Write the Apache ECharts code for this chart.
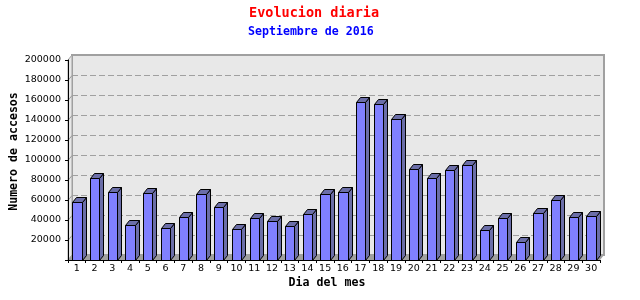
<!DOCTYPE html>
<html>
<head>
<meta charset="utf-8">
<script src="https://cdn.jsdelivr.net/npm/echarts@6/dist/echarts.min.js"></script>
<style>html,body{margin:0;padding:0;background:#fff}#c{width:640px;height:300px}</style>
</head>
<body>
<div id="c"></div>
<script>
const titleText = 'Evolucion diaria';
const subtitleText = 'Septiembre de 2016';
const xName = 'Dia del mes';
const yName = 'Numero de accesos';
const days = ['1','2','3','4','5','6','7','8','9','10','11','12','13','14','15','16','17','18','19','20','21','22','23','24','25','26','27','28','29','30'];
const accesses = [57700, 81700, 67700, 34700, 66700, 31700, 42700, 65700, 52700, 30700,
                  41700, 38700, 33700, 45700, 65700, 67700, 157700, 155700, 140700, 90700,
                  81700, 89700, 94700, 29700, 41700, 17700, 46700, 59700, 42700, 43700];
const yMin = 0, yMax = 200000, yStep = 20000;

const DX = 4, DY = 5;
const FRONT = '#8080ff', SIDE = '#6b6ea8', TOP = '#6b6ea8';
const MONO = '"DejaVu Sans Mono", monospace';
const SANS = '"DejaVu Sans", sans-serif';
const r = v => Math.round(v) + 0.5;

function renderBar(params, api) {
  const i = api.value(0), v = api.value(1);
  const t = api.coord([i, v]);
  const b = api.coord([i, 0]);
  const w = api.size([1, 0])[0] * 0.53;
  const x0 = r(t[0] - w / 2), x1 = r(t[0] + w / 2);
  const yT = r(t[1]), yB = r(b[1]);
  const st = (fill) => ({fill: fill, stroke: '#000', lineWidth: 1});
  return {type: 'group', children: [
    {type: 'polygon', shape: {points: [[x1, yT], [x1 + DX, yT - DY], [x1 + DX, yB - DY], [x1, yB]]}, style: st(SIDE)},
    {type: 'polygon', shape: {points: [[x0, yT], [x0 + DX, yT - DY], [x1 + DX, yT - DY], [x1, yT]]}, style: st(TOP)},
    {type: 'rect', shape: {x: x0, y: yT, width: x1 - x0, height: yB - yT}, style: st(FRONT)}
  ]};
}

function renderDecor(params, api) {
  const cs = params.coordSys;
  const x = cs.x, y = cs.y, w = cs.width, h = cs.height;
  const ch = [];
  ch.push({type: 'polygon', shape: {points: [[x, y], [x + DX, y - DY], [x + DX, y + h - DY], [x, y + h]]},
           style: {fill: '#e8e8e8', stroke: '#a0a0a0', lineWidth: 1}});
  ch.push({type: 'polygon', shape: {points: [[x, y + h], [x + DX, y + h - DY], [x + w + DX, y + h - DY], [x + w, y + h]]},
           style: {fill: '#a0a0a0'}});
  for (let v = yMin + yStep; v < yMax; v += yStep) {
    const p = api.coord([0, v]);
    const py = r(p[1]);
    ch.push({type: 'line', shape: {x1: x, y1: py, x2: x + DX, y2: py - DY}, style: {stroke: '#999', lineWidth: 1}});
  }
  return {type: 'group', children: ch};
}

const chart = echarts.init(document.getElementById('c'), null, {renderer: 'canvas'});
chart.setOption({
  animation: false,
  backgroundColor: '#fff',
  title: [
    {text: titleText, left: 249, top: 6, padding: 0,
     textStyle: {color: '#ff0000', fontFamily: MONO, fontWeight: 'bold', fontSize: 13.5}},
    {text: subtitleText, left: 248, top: 26, padding: 0,
     textStyle: {color: '#0000ff', fontFamily: MONO, fontWeight: 'bold', fontSize: 11.6}}
  ],
  grid: [
    {left: 68, right: 40, top: 60, bottom: 40, outerBoundsMode: 'none', containLabel: false},
    {left: 72, right: 36, top: 55, bottom: 45, outerBoundsMode: 'none', containLabel: false,
     show: true, backgroundColor: '#e8e8e8', borderColor: '#a0a0a0', borderWidth: 2}
  ],
  xAxis: [
    {type: 'category', data: days, gridIndex: 0, z: 10,
     name: xName, nameLocation: 'middle', nameGap: 17, nameMoveOverlap: false,
     nameTextStyle: {fontFamily: MONO, fontWeight: 'bold', fontSize: 11.6, color: '#000', padding: [0, 14, 0, 0]},
     axisLine: {lineStyle: {color: '#000', width: 1}},
     axisTick: {show: true, interval: 0, length: 3, lineStyle: {color: '#000'}},
     axisLabel: {interval: 0, margin: 4, color: '#000', fontFamily: SANS, fontSize: 9.5},
     splitLine: {show: false}},
    {type: 'category', data: days, gridIndex: 1, show: false}
  ],
  yAxis: [
    {type: 'value', gridIndex: 0, min: yMin, max: yMax, interval: yStep, z: 10,
     name: yName, nameLocation: 'middle', nameGap: 48, nameRotate: 90, nameMoveOverlap: false,
     nameTextStyle: {fontFamily: MONO, fontWeight: 'bold', fontSize: 11.6, color: '#000', padding: [0, 0, 0, 17]},
     axisLine: {show: true, lineStyle: {color: '#000', width: 1}},
     axisTick: {show: true, length: 3, lineStyle: {color: '#000'}},
     axisLabel: {margin: 7, color: '#000', fontFamily: SANS, fontSize: 9.5,
                 formatter: v => v === 0 ? '' : String(v)},
     splitLine: {show: false}},
    {type: 'value', gridIndex: 1, min: yMin, max: yMax, interval: yStep,
     axisLine: {show: false}, axisTick: {show: false}, axisLabel: {show: false},
     splitLine: {show: true, lineStyle: {color: '#a0a0a0', type: [6, 3], width: 1}}}
  ],
  series: [
    {type: 'custom', xAxisIndex: 0, yAxisIndex: 0, z: 1, silent: true,
     renderItem: renderDecor, data: [[0, 0]], clip: false},
    {type: 'custom', xAxisIndex: 0, yAxisIndex: 0, z: 3,
     renderItem: renderBar, data: accesses.map((v, i) => [i, v]), clip: false}
  ]
});
</script>
</body>
</html>
